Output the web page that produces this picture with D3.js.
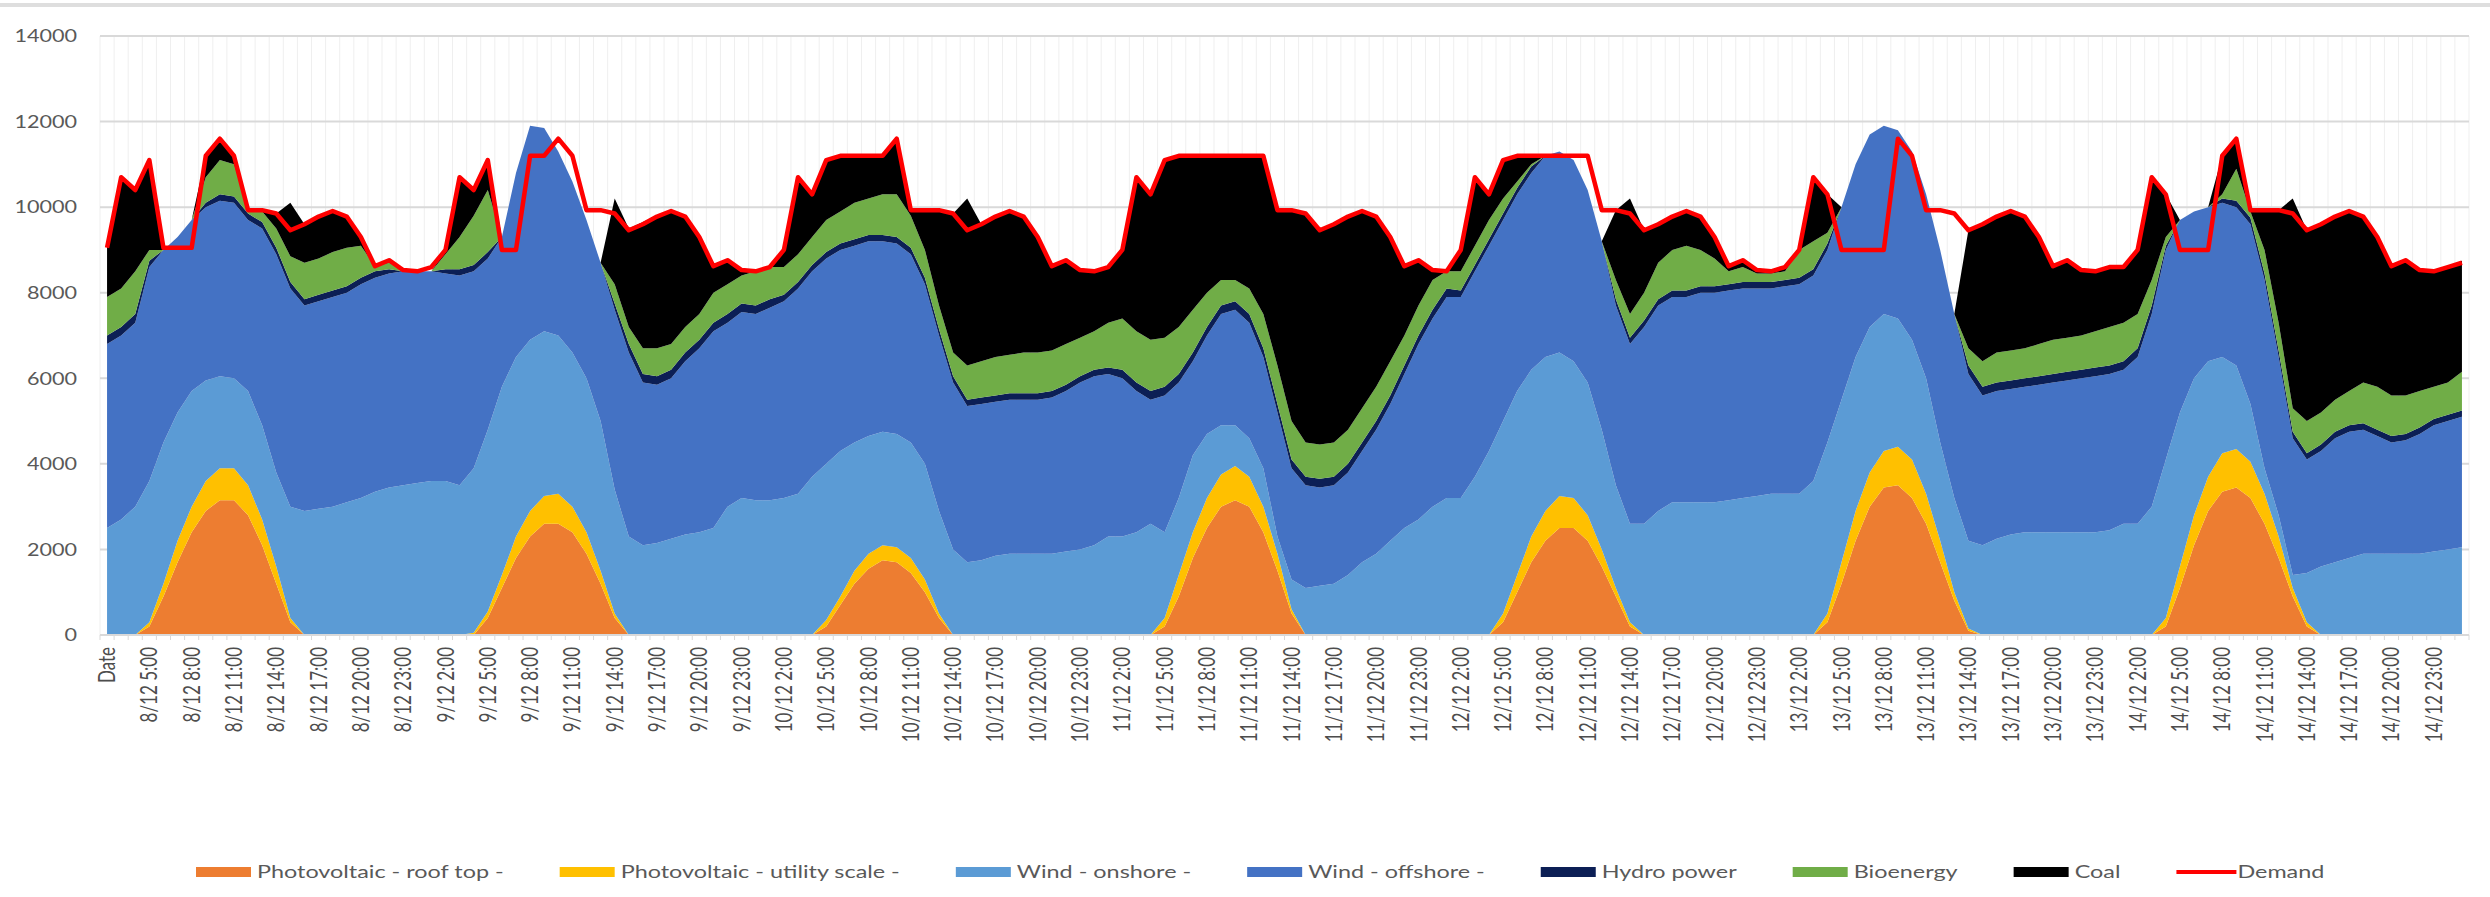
<!DOCTYPE html>
<html>
<head>
<meta charset="utf-8">
<script src="https://cdn.jsdelivr.net/npm/d3@7"></script>
<style>
body { margin: 0; background: #fff; }
text { font-family: Lato, "Open Sans", sans-serif; fill: #595959; }
</style>
</head>
<body>
<svg id="chart" width="2490" height="897"></svg>
<script>
// hourly values (MW), one row per day, 24 values each
var pvRoof = [
  0,0,0,200,900,1700,2400,2900,3150,3150,2800,2100,1200,300,0,0,0,0,0,0,0,0,0,0,
  0,0,0,400,1100,1800,2300,2600,2600,2400,1900,1200,400,0,0,0,0,0,0,0,0,0,0,0,
  0,0,0,200,700,1200,1550,1750,1700,1450,1000,400,0,0,0,0,0,0,0,0,0,0,0,0,
  0,0,0,200,900,1800,2500,3000,3150,3000,2400,1500,500,0,0,0,0,0,0,0,0,0,0,0,
  0,0,0,300,1000,1700,2200,2500,2500,2200,1600,900,200,0,0,0,0,0,0,0,0,0,0,0,
  0,0,300,1200,2200,3000,3450,3500,3200,2600,1700,800,100,0,0,0,0,0,0,0,0,0,0,0,
  0,0,200,1100,2100,2900,3350,3450,3200,2600,1800,900,200,0,0,0,0,0,0,0,0,0,0,0
];
var pvUtility = [
  0,0,0,100,300,500,600,700,750,750,700,600,400,100,0,0,0,0,0,0,0,0,0,0,
  0,0,50,150,300,500,600,650,700,600,500,300,100,0,0,0,0,0,0,0,0,0,0,0,
  0,0,0,150,200,300,350,350,350,350,300,100,0,0,0,0,0,0,0,0,0,0,0,0,
  0,0,0,200,500,600,700,750,800,700,600,400,100,0,0,0,0,0,0,0,0,0,0,0,
  0,0,0,200,400,600,700,750,700,600,400,200,100,0,0,0,0,0,0,0,0,0,0,0,
  0,0,200,500,700,800,850,900,900,700,500,200,50,0,0,0,0,0,0,0,0,0,0,0,
  0,0,200,500,700,800,900,900,850,700,500,200,100,0,0,0,0,0,0,0,0,0,0,0
];
var windOnshore = [
  2500,2700,3000,3300,3300,3000,2700,2350,2150,2100,2200,2200,2200,2600,2900,2950,3000,3100,3200,3350,3450,3500,3550,3600,
  3600,3500,3850,4250,4400,4200,4000,3850,3700,3600,3600,3500,2900,2300,2100,2150,2250,2350,2400,2500,3000,3200,3150,3150,
  3200,3300,3700,3650,3400,3000,2750,2650,2650,2700,2700,2400,2000,1700,1750,1850,1900,1900,1900,1900,1950,2000,2100,2300,
  2300,2400,2600,2000,1800,1800,1500,1150,950,900,900,400,700,1100,1150,1200,1400,1700,1900,2200,2500,2700,3000,3200,
  3200,3700,4300,4500,4300,3900,3600,3350,3200,3100,2800,2400,2300,2600,2900,3100,3100,3100,3100,3150,3200,3250,3300,3300,
  3300,3600,4000,3800,3600,3400,3200,3000,2800,2700,2300,2200,2050,2100,2250,2350,2400,2400,2400,2400,2400,2400,2450,2600,
  2600,3000,3700,3600,3200,2700,2250,1950,1350,600,500,300,1150,1600,1700,1800,1900,1900,1900,1900,1900,1950,2000,2050
];
var windOffshore = [
  4300,4300,4300,5000,4500,4100,4000,4050,4100,4100,4000,4600,5100,5100,4800,4850,4900,4900,5000,5000,5000,5000,4950,4900,
  4850,4900,4600,4000,3500,4300,5000,4750,4300,4000,3700,3700,4200,4300,3800,3700,3750,4050,4300,4600,4300,4350,4350,4500,
  4600,4800,4800,4800,4700,4600,4550,4450,4450,4400,4200,4100,3900,3650,3650,3600,3600,3600,3600,3650,3750,3900,3950,3800,
  3700,3300,2900,3200,2700,2200,2300,2600,2700,2700,2600,2900,2600,2400,2300,2300,2400,2600,2900,3200,3600,4100,4400,4700,
  4700,4800,4800,4700,4600,4600,4700,4700,4700,4500,4400,4200,4200,4600,4800,4800,4800,4900,4900,4900,4900,4850,4800,4850,
  4900,4800,4500,4500,4500,4500,4400,4400,4400,4300,4500,4300,3900,3500,3450,3400,3400,3450,3500,3550,3600,3650,3650,3600,
  3900,4500,4900,4500,3900,3600,3600,3700,4200,4400,3700,3200,2650,2700,2900,2950,2900,2750,2600,2650,2800,2950,3000,3050
];
var hydro = [
  200,200,200,150,0,0,0,100,150,150,150,150,150,150,150,150,150,150,150,150,100,0,0,0,
  100,150,150,150,0,0,0,0,0,0,0,0,150,200,200,200,200,200,200,200,200,200,200,200,
  150,150,150,150,150,150,150,150,150,150,150,150,150,150,150,150,150,150,150,150,150,150,150,150,
  200,200,200,200,200,200,200,200,200,200,200,200,200,200,200,200,200,200,200,200,200,200,200,200,
  150,150,150,150,150,150,0,0,0,0,0,150,150,150,150,150,150,150,150,150,150,150,150,150,
  150,150,150,0,0,0,0,0,0,0,0,0,200,200,200,200,200,200,200,200,200,200,200,200,
  200,200,100,0,0,0,100,150,150,150,150,150,150,150,150,150,150,150,150,150,150,150,150,150
];
var bioenergy = [
  900,900,1000,250,0,0,0,600,800,750,100,250,450,600,850,850,900,900,750,120,150,0,0,0,
  350,750,1150,1450,0,0,0,0,0,0,0,0,450,400,600,650,600,600,600,700,700,650,800,750,
  650,650,650,750,750,850,850,950,1000,750,650,550,550,800,850,900,900,950,950,950,950,900,900,1050,
  1200,1200,1200,1150,1100,1000,800,600,500,600,800,900,900,800,800,800,800,800,800,800,700,700,700,400,
  450,450,450,350,150,50,0,0,0,0,0,450,550,650,850,950,1050,850,650,300,350,200,200,200,
  650,650,250,0,0,0,0,0,0,0,0,0,400,600,700,700,700,750,800,800,800,850,900,900,
  800,600,200,0,0,0,100,750,150,550,650,550,750,750,750,800,950,1000,950,900,850,750,750,900
];
var coal = [
  1150,2600,1900,2100,0,0,0,500,500,200,0,0,350,1250,900,980,960,730,200,0,60,0,0,0,
  100,1400,600,700,0,0,0,0,0,0,0,0,2000,2300,2950,3100,3100,2550,1800,650,550,100,0,0,
  400,1800,1000,1400,1300,1100,1000,900,1300,130,930,2230,3250,3900,3200,3280,3360,3180,2700,1970,1960,1580,1400,1300,
  1600,3600,3400,4150,4000,3600,3200,2900,2900,3100,3700,3630,4930,5350,5010,5100,4980,4610,3980,2900,1620,1060,230,0,
  500,1600,600,900,600,200,0,0,0,0,0,1630,2700,1460,900,780,810,780,500,120,160,80,50,100,
  0,1500,900,0,0,0,0,0,0,0,0,0,2760,3200,3180,3260,3080,2500,1720,1810,1530,1400,1400,1300,
  1500,2400,1000,0,0,0,900,700,30,930,2630,4900,4460,4400,4280,4210,3880,3500,3020,3160,2830,2700,2700,2600
];
var demand = [
  9050,10700,10400,11100,9050,9050,9050,11200,11600,11200,9930,9930,9850,9460,9600,9780,9910,9780,9300,8620,8760,8530,8500,8600,
  9000,10700,10400,11100,9000,9000,11200,11200,11600,11200,9930,9930,9850,9460,9600,9780,9910,9780,9300,8620,8760,8530,8500,8600,
  9000,10700,10300,11100,11200,11200,11200,11200,11600,9930,9930,9930,9850,9460,9600,9780,9910,9780,9300,8620,8760,8530,8500,8600,
  9000,10700,10300,11100,11200,11200,11200,11200,11200,11200,11200,9930,9930,9850,9460,9600,9780,9910,9780,9300,8620,8760,8530,8500,
  9000,10700,10300,11100,11200,11200,11200,11200,11200,11200,9930,9930,9850,9460,9600,9780,9910,9780,9300,8620,8760,8530,8500,8600,
  9000,10700,10300,9000,9000,9000,9000,11600,11200,9930,9930,9850,9460,9600,9780,9910,9780,9300,8620,8760,8530,8500,8600,8600,
  9000,10700,10300,9000,9000,9000,11200,11600,9930,9930,9930,9850,9460,9600,9780,9910,9780,9300,8620,8760,8530,8500,8600,8700
];

// axis labels
var days = ["8/12", "9/12", "10/12", "11/12", "12/12", "13/12", "14/12"];
var hours = ["2:00", "5:00", "8:00", "11:00", "14:00", "17:00", "20:00", "23:00"];
var yTicks = [0, 2000, 4000, 6000, 8000, 10000, 12000, 14000];

var seriesNames = ["Photovoltaic - roof top -", "Photovoltaic - utility scale -", "Wind - onshore -",
  "Wind - offshore -", "Hydro power", "Bioenergy", "Coal"];
var seriesColors = ["#ED7D31", "#FFC000", "#5B9BD5", "#4472C4", "#0C1F55", "#70AD47", "#000000"];
var seriesValues = [pvRoof, pvUtility, windOnshore, windOffshore, hydro, bioenergy, coal];

// tick labels: every 3rd hour, first one is the header cell "Date"
var tickLabels = [];
days.forEach(function (d, k) {
  hours.forEach(function (h, j) {
    tickLabels.push((k == 0 && j == 0) ? "Date" : d + " " + h);
  });
});

var n = demand.length;
var svg = d3.select("#chart");

var x = d3.scalePoint().domain(d3.range(n)).range([100, 2469]).padding(0.5);
var y = d3.scaleLinear().domain([0, 14000]).range([635, 36]);
var step = x.step();

// top border of the chart box
svg.append("rect").attr("x", 0).attr("y", 3).attr("width", 2490).attr("height", 4).attr("fill", "#dedede");

// faint vertical gridlines
svg.append("g").selectAll("line")
  .data(d3.range(n + 1))
  .enter().append("line")
  .attr("x1", function (i) { return 100 + i * step; })
  .attr("x2", function (i) { return 100 + i * step; })
  .attr("y1", y(14000)).attr("y2", y(0))
  .attr("stroke", "#efefef").attr("stroke-width", 1);

// horizontal gridlines
svg.append("g").selectAll("line")
  .data(yTicks.slice(1))
  .enter().append("line")
  .attr("x1", 100).attr("x2", 2469)
  .attr("y1", function (v) { return y(v); })
  .attr("y2", function (v) { return y(v); })
  .attr("stroke", "#d9d9d9").attr("stroke-width", 2);

// stacked areas
var table = d3.range(n).map(function (i) {
  var r = { i: i };
  seriesNames.forEach(function (s, k) { r[s] = seriesValues[k][i]; });
  return r;
});
var stacked = d3.stack().keys(seriesNames)(table);

var area = d3.area()
  .x(function (d) { return x(d.data.i); })
  .y0(function (d) { return y(d[0]); })
  .y1(function (d) { return y(d[1]); });

svg.append("g").selectAll("path")
  .data(stacked)
  .enter().append("path")
  .attr("d", area)
  .attr("fill", function (d, k) { return seriesColors[k]; });

// demand line
var line = d3.line()
  .x(function (d, i) { return x(i); })
  .y(function (d) { return y(d); });

svg.append("path")
  .datum(demand)
  .attr("d", line)
  .attr("fill", "none")
  .attr("stroke", "#FF0000")
  .attr("stroke-width", 4.5)
  .attr("stroke-linejoin", "round");

// x axis line and small ticks
svg.append("line").attr("x1", 100).attr("x2", 2469).attr("y1", y(0)).attr("y2", y(0))
  .attr("stroke", "#d9d9d9").attr("stroke-width", 2);
svg.append("g").selectAll("line")
  .data(d3.range(n + 1))
  .enter().append("line")
  .attr("x1", function (i) { return 100 + i * step; })
  .attr("x2", function (i) { return 100 + i * step; })
  .attr("y1", y(0)).attr("y2", y(0) + 5)
  .attr("stroke", "#d9d9d9").attr("stroke-width", 1);

// y labels
svg.append("g").selectAll("text")
  .data(yTicks)
  .enter().append("text")
  .attr("transform", function (v) { return "translate(77," + y(v) + ") scale(1.2,1)"; })
  .attr("dy", "0.35em")
  .attr("text-anchor", "end")
  .style("font-size", "18px")
  .text(function (v) { return v; });

// x labels, rotated
svg.append("g").selectAll("text")
  .data(tickLabels)
  .enter().append("text")
  .attr("transform", function (t, k) {
    return "translate(" + x(k * 3) + ",647) scale(1.35,1) rotate(-90)";
  })
  .attr("dy", "0.35em")
  .attr("text-anchor", "end")
  .style("font-size", "17px")
  .style("fill", "#4d4d4d")
  .text(function (t) { return t; });

// legend
var legendItems = seriesNames.concat(["Demand"]);
var legendColors = seriesColors.concat(["#FF0000"]);
var lx = 196, ly = 872;
legendItems.forEach(function (name, k) {
  var g = svg.append("g");
  if (name == "Demand") {
    g.append("line").attr("x1", lx).attr("x2", lx + 60).attr("y1", ly).attr("y2", ly)
      .attr("stroke", legendColors[k]).attr("stroke-width", 4);
  } else {
    g.append("rect").attr("x", lx).attr("y", ly - 5).attr("width", 55).attr("height", 10)
      .attr("fill", legendColors[k]);
  }
  var t = g.append("text")
    .attr("transform", "translate(" + (lx + 61) + "," + ly + ") scale(1.3,1)")
    .attr("dy", "0.35em")
    .style("font-size", "18px")
    .text(name);
  var w = t.node().getComputedTextLength() * 1.3;
  lx = lx + 61 + w + 56;
});
</script>
</body>
</html>
